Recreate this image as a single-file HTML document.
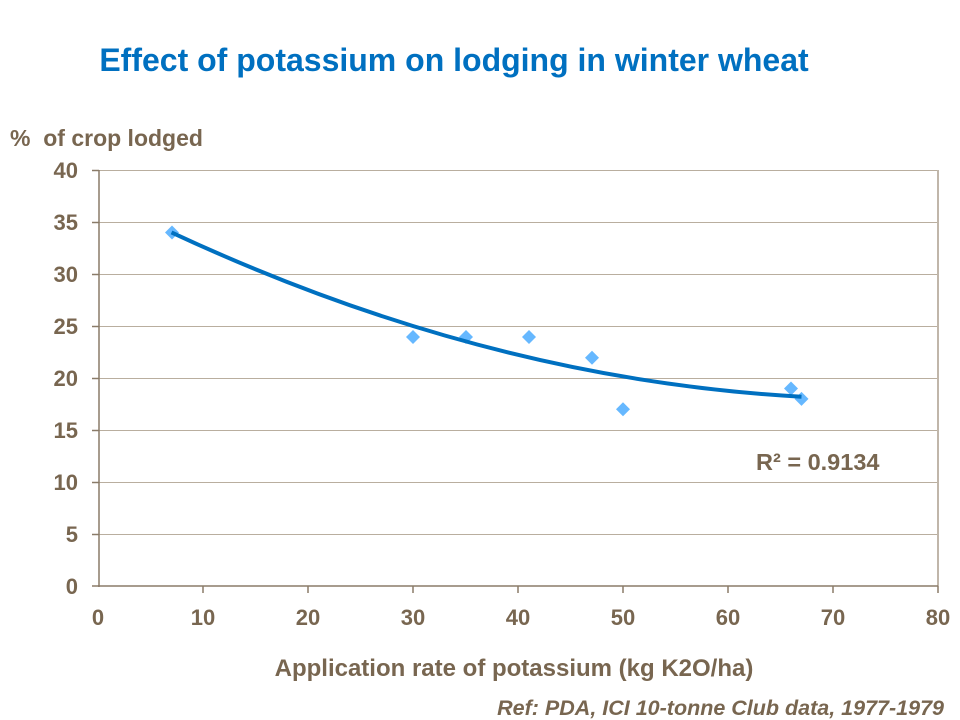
<!DOCTYPE html>
<html><head><meta charset="utf-8"><style>
html,body{margin:0;padding:0;background:#fff;}
svg{display:block;font-family:"Liberation Sans",Arial,sans-serif;font-weight:bold;}
</style></head><body>
<svg width="960" height="720" viewBox="0 0 960 720" xmlns="http://www.w3.org/2000/svg">
<text x="454" y="71" text-anchor="middle" font-size="32" fill="#0070c0">Effect of potassium on lodging in winter wheat</text>
<text x="10" y="146" font-size="23" fill="#786650" xml:space="preserve">%  of crop lodged</text>
<g stroke="#b9ae9f" stroke-width="1">
<line x1="99" y1="170.5" x2="938" y2="170.5"/>
<line x1="99" y1="222.5" x2="938" y2="222.5"/>
<line x1="99" y1="274.5" x2="938" y2="274.5"/>
<line x1="99" y1="326.5" x2="938" y2="326.5"/>
<line x1="99" y1="378.5" x2="938" y2="378.5"/>
<line x1="99" y1="430.5" x2="938" y2="430.5"/>
<line x1="99" y1="482.5" x2="938" y2="482.5"/>
<line x1="99" y1="534.5" x2="938" y2="534.5"/>
</g>
<line x1="938" y1="170" x2="938" y2="586" stroke="#c0b6aa" stroke-width="2"/>
<g stroke="#8a7b68" stroke-width="1.5">
<line x1="99" y1="170" x2="99" y2="587"/>
<line x1="98" y1="586" x2="938" y2="586"/>
<line x1="92" y1="170.5" x2="99" y2="170.5"/><line x1="92" y1="222.5" x2="99" y2="222.5"/>
<line x1="92" y1="274.5" x2="99" y2="274.5"/><line x1="92" y1="326.5" x2="99" y2="326.5"/>
<line x1="92" y1="378.5" x2="99" y2="378.5"/><line x1="92" y1="430.5" x2="99" y2="430.5"/>
<line x1="92" y1="482.5" x2="99" y2="482.5"/><line x1="92" y1="534.5" x2="99" y2="534.5"/>
<line x1="92" y1="586" x2="99" y2="586"/>
<line x1="203" y1="586" x2="203" y2="593"/><line x1="308" y1="586" x2="308" y2="593"/>
<line x1="413" y1="586" x2="413" y2="593"/><line x1="518" y1="586" x2="518" y2="593"/>
<line x1="623" y1="586" x2="623" y2="593"/><line x1="728" y1="586" x2="728" y2="593"/>
<line x1="833" y1="586" x2="833" y2="593"/><line x1="938" y1="586" x2="938" y2="593"/>
</g>
<g font-size="22" fill="#786650" text-anchor="end">
<text x="78" y="178">40</text><text x="78" y="230">35</text><text x="78" y="282">30</text>
<text x="78" y="334">25</text><text x="78" y="386">20</text><text x="78" y="438">15</text>
<text x="78" y="490">10</text><text x="78" y="542">5</text><text x="78" y="594">0</text>
</g>
<g font-size="22" fill="#786650" text-anchor="middle">
<text x="98" y="625">0</text><text x="203" y="625">10</text><text x="308" y="625">20</text>
<text x="413" y="625">30</text><text x="518" y="625">40</text><text x="623" y="625">50</text>
<text x="728" y="625">60</text><text x="833" y="625">70</text><text x="938" y="625">80</text>
</g>
<text x="514" y="676" text-anchor="middle" font-size="24" fill="#786650">Application rate of potassium (kg K2O/ha)</text>
<text x="944" y="715" text-anchor="end" font-size="21.5" font-style="italic" fill="#786650">Ref: PDA, ICI 10-tonne Club data, 1977-1979</text>
<g fill="#66b8ff">
<path d="M172 225.5l7 7-7 7-7-7z"/>
<path d="M413 330l7 7-7 7-7-7z"/>
<path d="M466 330l7 7-7 7-7-7z"/>
<path d="M529 330l7 7-7 7-7-7z"/>
<path d="M592 350.8l7 7-7 7-7-7z"/>
<path d="M623 402.3l7 7-7 7-7-7z"/>
<path d="M791 381.5l7 7-7 7-7-7z"/>
<path d="M801.5 391.9l7 7-7 7-7-7z"/>
</g>
<path d="M171.5 232.4 Q486.5 379.4 801.5 396.7" fill="none" stroke="#0070c0" stroke-width="4"/>
<text x="756" y="470" font-size="23.5" fill="#786650">R² = 0.9134</text>
</svg>
</body></html>
